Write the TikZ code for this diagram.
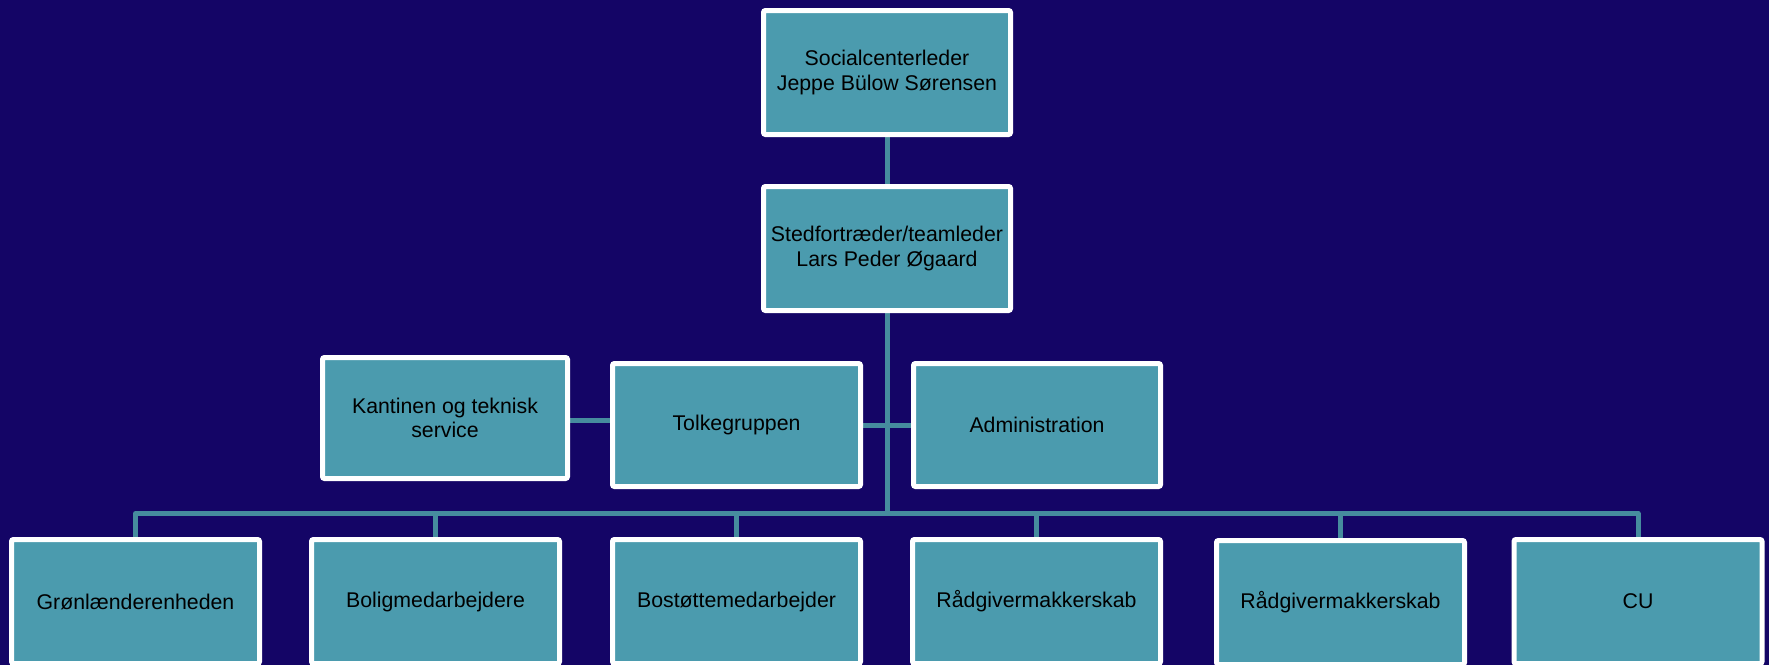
\documentclass[tikz,border=0pt]{standalone}
\usepackage{fontspec}
\setmainfont{Liberation Sans}
\definecolor{bgnavy}{HTML}{140566}
\definecolor{boxfill}{HTML}{4B9BAE}
\definecolor{linecol}{HTML}{468C9E}
\pgfdeclarelayer{bglayer}
\pgfdeclarelayer{lines}
\pgfsetlayers{bglayer,lines,main}
\tikzset{
  orgbox/.style={rectangle, draw=white, line width=5pt, fill=boxfill,
    rounded corners=2pt, inner sep=0pt, align=center, text=black,
    minimum width=247pt, minimum height=124pt,
    font=\fontsize{21.3}{24.5}\selectfont},
  conn/.style={draw=linecol, line width=5pt}
}
\begin{document}
\begin{tikzpicture}[x=1pt,y=-1pt]
\useasboundingbox (0,0) rectangle (1769,665);
\begin{pgfonlayer}{bglayer}
\fill[bgnavy] (0,0) rectangle (1769,665);
\end{pgfonlayer}

\node[orgbox] (top) at (887,72.5) {Socialcenterleder\\Jeppe Bülow Sørensen};
\node[orgbox] (second) at (887,248.5) {Stedfortræder/teamleder\\Lars Peder Øgaard};

\node[orgbox, minimum width=245pt, minimum height=121pt] (kant) at (445,418) {Kantinen og teknisk\\service};
\node[orgbox, minimum width=248pt, minimum height=123pt] (tolke) at (736.5,425) {Tolkegruppen};
\node[orgbox, minimum width=247pt, minimum height=123pt] (admin) at (1037,425) {Administration};

\node[orgbox, minimum width=248pt] (gron) at (135.5,601.5) {Grønlænderenheden};
\node[orgbox, minimum width=248pt] (bolig) at (435.5,601.5) {Boligmedarbejdere};
\node[orgbox, minimum width=248pt] (bost) at (736.5,601.5) {Bostøttemedarbejder};
\node[orgbox, minimum width=248pt] (rad1) at (1036.5,601.5) {Rådgivermakkerskab};
\node[orgbox, minimum width=248pt] (rad2) at (1340.5,602.5) {Rådgivermakkerskab};
\node[orgbox, minimum width=248pt] (cu) at (1638,601.5) {CU};

\coordinate (bus) at (887,513.5);

\begin{pgfonlayer}{lines}
\draw[conn] (top.south) -- (second.north);
\draw[conn, line join=round] (second.south) -- (bus);
\draw[conn] (kant.east |- 0,420) -- (tolke.west |- 0,420);
\draw[conn] (tolke.east) -- (admin.west);
\foreach \b in {gron,bolig,bost,rad1,rad2,cu}{
  \draw[conn, line join=round] (bus) -| (\b.north);
}
\end{pgfonlayer}
\end{tikzpicture}
\end{document}
